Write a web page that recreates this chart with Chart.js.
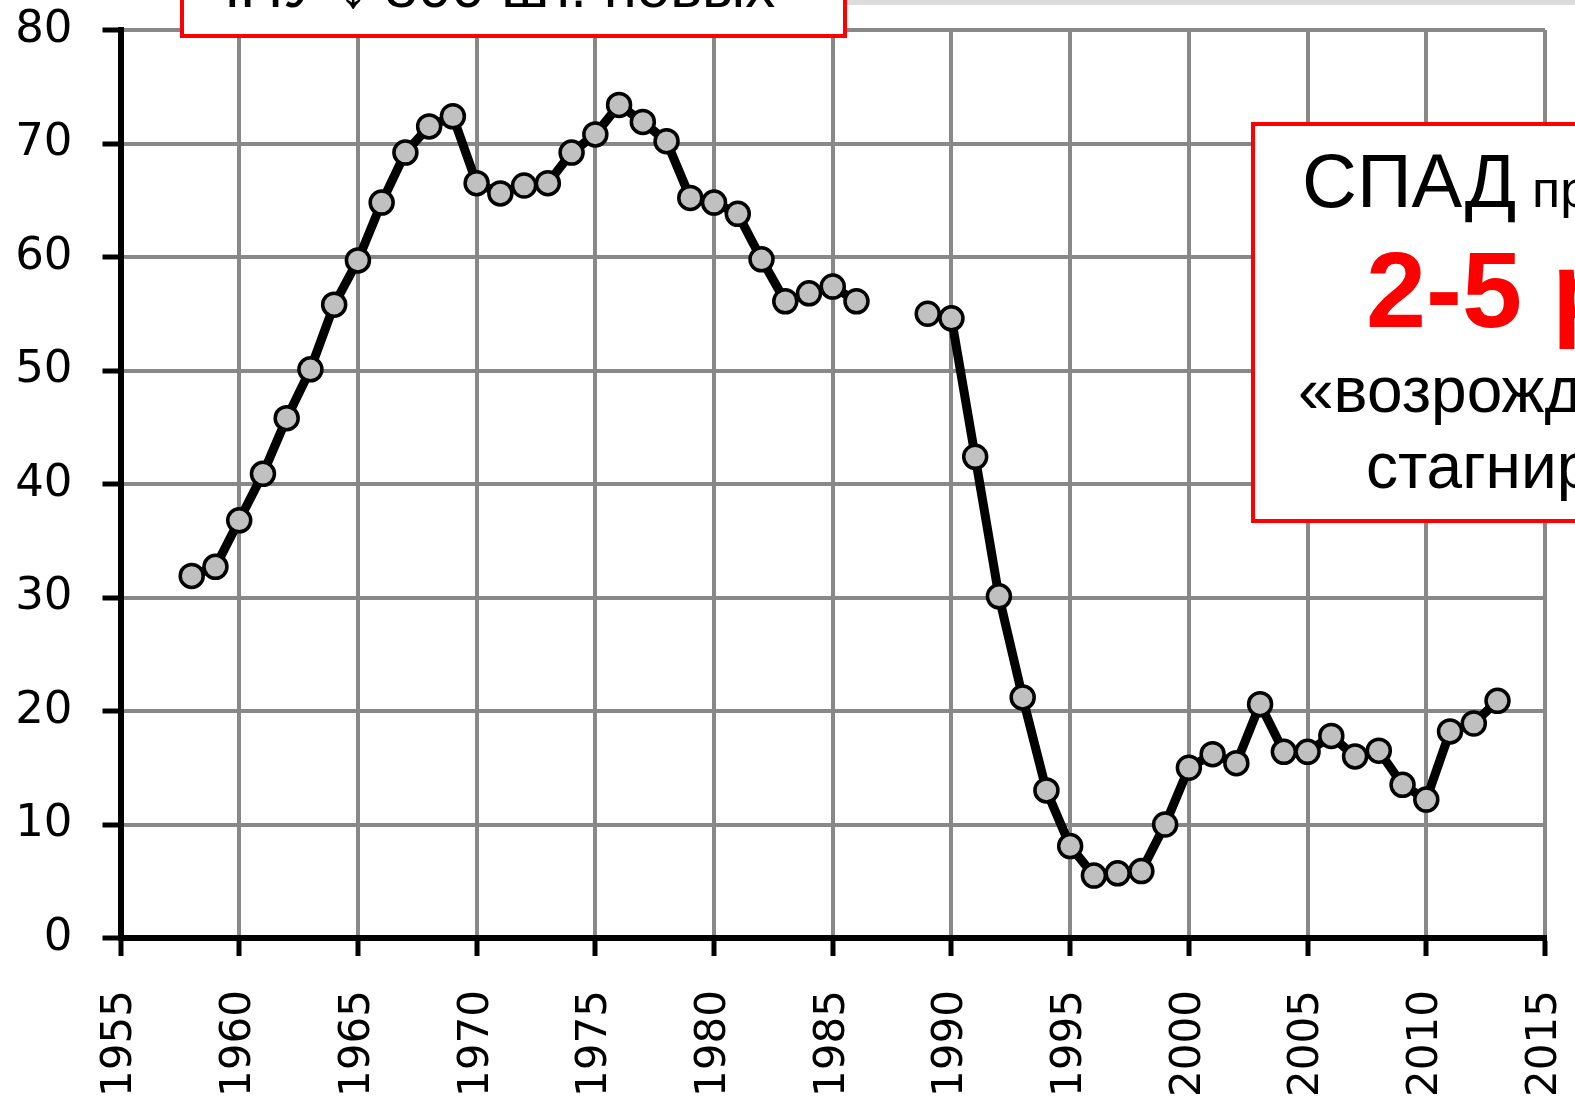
<!DOCTYPE html>
<html>
<head>
<meta charset="utf-8">
<script src="https://cdn.jsdelivr.net/npm/chart.js@4/dist/chart.umd.min.js"></script>
<style>
  html, body { margin: 0; padding: 0; background: #ffffff; }
  canvas { display: block; }
</style>
</head>
<body>
<canvas id="grafico" width="1575" height="1109"></canvas>
<script>
const anos = [
  1958, 1959, 1960, 1961, 1962, 1963, 1964, 1965, 1966, 1967,
  1968, 1969, 1970, 1971, 1972, 1973, 1974, 1975, 1976, 1977,
  1978, 1979, 1980, 1981, 1982, 1983, 1984, 1985, 1986, 1987,
  1988, 1989, 1990, 1991, 1992, 1993, 1994, 1995, 1996, 1997,
  1998, 1999, 2000, 2001, 2002, 2003, 2004, 2005, 2006, 2007,
  2008, 2009, 2010, 2011, 2012, 2013
];
const valores = [
  31.9, 32.7, 36.8, 40.9, 45.8, 50.1, 55.8, 59.7, 64.8, 69.2,
  71.5, 72.4, 66.5, 65.6, 66.3, 66.5, 69.2, 70.8, 73.4, 71.9,
  70.2, 65.2, 64.8, 63.8, 59.8, 56.1, 56.8, 57.4, 56.1, null,
  null, 55.0, 54.6, 42.4, 30.1, 21.2, 13.0, 8.1, 5.5, 5.7,
  5.9, 10.0, 15.0, 16.2, 15.4, 20.6, 16.4, 16.4, 17.8, 16.0,
  16.5, 13.5, 12.2, 18.2, 18.9, 20.9
];
const ticksAnos = { min: 1955, max: 2015, passo: 5 };
const ticksValores = { min: 0, max: 80, passo: 10 };

const textoTopo = "ЧПУ ↓ 800 шт. новых";
const textoCaixa = ["СПАД", "производства", "2-5 раз", "«возрождение»", "стагнирует"];

const fonteY = { family: "'DejaVu Sans', Verdana, sans-serif", size: 45 };
const fonteX = { family: "'DejaVu Sans', Verdana, sans-serif", size: 42 };

const pontos = anos.map((a, i) => ({ x: a, y: valores[i] }));

// caixas de texto por cima do grafico
const caixas = {
  id: "caixas",
  beforeDraw(chart) {
    const c = chart.ctx;
    c.save();
    c.fillStyle = "#ffffff";
    c.fillRect(0, 0, chart.width, chart.height);
    c.restore();
  },
  afterDraw(chart) {
    const c = chart.ctx;
    c.save();

    // faixa cinza no topo
    c.fillStyle = "#dcdcdc";
    c.fillRect(846, 0, 730, 5);

    // caixa de cima
    c.fillStyle = "#ffffff";
    c.fillRect(181, -10, 665, 47);
    c.strokeStyle = "#ff0000";
    c.lineWidth = 4;
    c.strokeRect(182, -10, 663, 46);
    c.fillStyle = "#000000";
    c.font = "60px 'Liberation Sans', Arial, sans-serif";
    c.textBaseline = "alphabetic";
    c.fillText(textoTopo, 200, 7);

    // caixa da direita
    c.fillStyle = "#ffffff";
    c.fillRect(1253, 124, 340, 398);
    c.strokeStyle = "#ff0000";
    c.lineWidth = 4;
    c.strokeRect(1253, 124, 340, 397);

    c.fillStyle = "#000000";
    c.font = "76px 'Liberation Sans', Arial, sans-serif";
    c.fillText(textoCaixa[0], 1302, 207);
    c.font = "52px 'Liberation Sans', Arial, sans-serif";
    c.fillText(textoCaixa[1], 1532, 207);

    c.fillStyle = "#ff0000";
    c.font = "bold 108px 'Liberation Sans', Arial, sans-serif";
    c.fillText(textoCaixa[2], 1366, 327);

    c.fillStyle = "#000000";
    c.font = "64px 'Liberation Sans', Arial, sans-serif";
    c.fillText(textoCaixa[3], 1298, 412);
    c.fillText(textoCaixa[4], 1366, 488);

    c.restore();
  }
};

new Chart(document.getElementById("grafico"), {
  type: "line",
  data: {
    datasets: [{
      data: pontos,
      borderColor: "#000000",
      borderWidth: 9,
      backgroundColor: "#c0c0c0",
      pointBackgroundColor: "#c0c0c0",
      pointBorderColor: "#000000",
      pointBorderWidth: 3.5,
      pointRadius: 11.5,
      spanGaps: false,
      tension: 0,
      clip: false
    }]
  },
  options: {
    responsive: false,
    animation: false,
    events: [],
    layout: { padding: { top: 30, right: 30, left: 0, bottom: 0 } },
    plugins: {
      legend: { display: false },
      tooltip: { enabled: false }
    },
    scales: {
      x: {
        type: "linear",
        min: ticksAnos.min,
        max: ticksAnos.max,
        afterFit(scale) {
          scale.height = 171;
          scale.paddingLeft = 0;
          scale.paddingRight = 0;
        },
        border: { color: "#000000", width: 6 },
        grid: {
          color: "#888888",
          lineWidth: 4,
          tickColor: "#000000",
          tickWidth: 5,
          tickLength: 18
        },
        ticks: {
          stepSize: ticksAnos.passo,
          color: "#000000",
          font: fonteX,
          minRotation: 90,
          maxRotation: 90,
          padding: 34,
          callback: v => String(v)
        }
      },
      y: {
        min: ticksValores.min,
        max: ticksValores.max,
        afterFit(scale) {
          scale.width = 120.5;
          scale.paddingTop = 0;
          scale.paddingBottom = 0;
        },
        border: { color: "#000000", width: 6 },
        grid: {
          color: "#888888",
          lineWidth: 4,
          tickColor: "#000000",
          tickWidth: 5,
          tickLength: 18
        },
        ticks: {
          stepSize: ticksValores.passo,
          color: "#000000",
          font: fonteY,
          padding: 30,
          callback: v => String(v)
        }
      }
    }
  },
  plugins: [caixas]
});
</script>
</body>
</html>
